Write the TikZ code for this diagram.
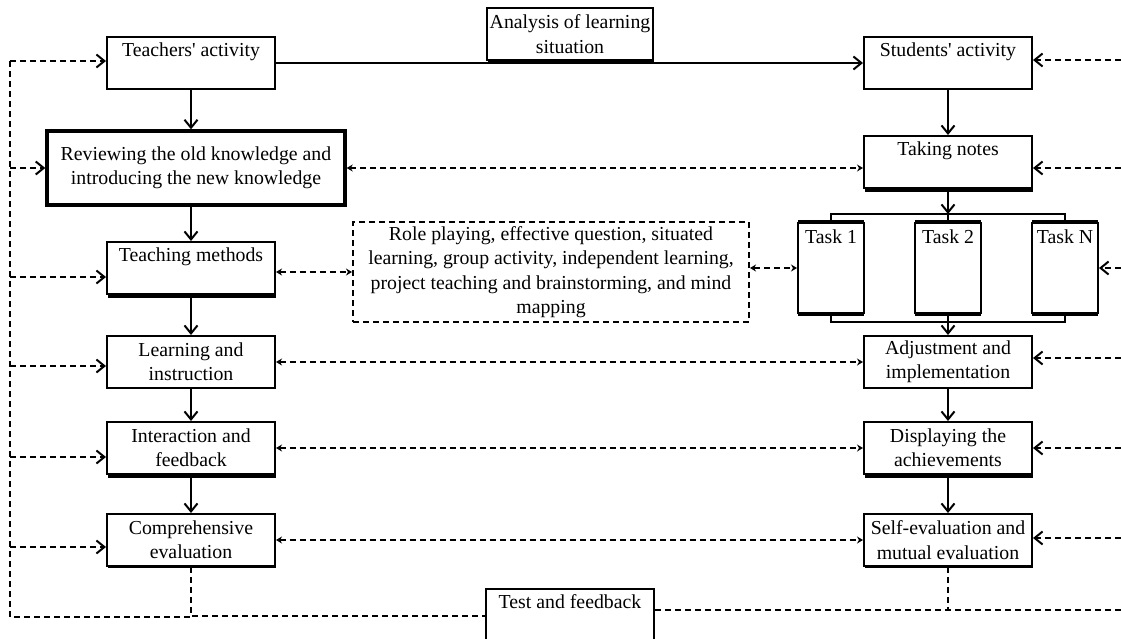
\documentclass[tikz,border=0pt]{standalone}
\usepackage{fontspec}
\setmainfont{Liberation Serif}
\usepackage{tikz}
\usetikzlibrary{arrows.meta,positioning,calc,shadows}
\tikzset{
  >={Straight Barb[length=8pt,width=13pt]},
  every picture/.append style={line width=2pt},
  every node/.append style={font=\fontsize{19.8}{24.4}\selectfont},
}
\tikzset{
  box/.style={draw, fill=white, align=center, inner xsep=3pt, inner ysep=3pt, minimum width=168pt, minimum height=52pt},
  topbox/.style={box, text height=16pt, text depth=30pt},
  arrow/.style={->},
  dline/.style={dash pattern=on 6pt off 4pt},
  darrow/.style={->, dline},
  biarrow/.style={{Stealth[length=6pt,width=7pt]}-{Stealth[length=6pt,width=7pt]}, dline},
  shade/.style={drop shadow={shadow xshift=1pt, shadow yshift=-3.5pt, opacity=1, fill=black}},
  thinshade/.style={drop shadow={shadow xshift=1pt, shadow yshift=-1.5pt, opacity=1, fill=black}}
}

\begin{document}
\begin{tikzpicture}[
  x=1pt, y=-1pt,
  taskbox/.style={box, minimum width=66pt, minimum height=90pt, inner xsep=1pt, text height=17pt, text depth=67pt,
    general shadow={fill=black, shadow yshift=3pt},
    general shadow={fill=black, shadow yshift=-3pt}},
  bar/.style={line width=2.8pt}
]
\useasboundingbox (0,0) rectangle (1121,638);
\clip (0,0) rectangle (1121,638);

% teachers' side
\node[topbox] (teacher) at (191,63) {Teachers\textquotesingle{} activity};
\node[box, minimum width=298pt, minimum height=74pt, line width=3.4pt,
  drop shadow={shadow xshift=1.5pt, shadow yshift=-1pt, opacity=1, fill=black}] (review) at (196,168)
  {Reviewing the old knowledge and\\introducing the new knowledge};
\node[topbox, shade] (methods) at (191,268) {Teaching methods};
\node[box] (learn) at (191,362) {Learning and\\instruction};
\node[box, shade] (interact) at (191,448) {Interaction and\\feedback};
\node[box, thinshade] (comprehensive) at (191,540) {Comprehensive\\evaluation};

% students' side
\node[topbox] (student) at (948,63) {Students\textquotesingle{} activity};
\node[topbox, shade] (notes) at (948,162) {Taking notes};
\node[taskbox] (task1) at (831,268) {Task 1};
\node[taskbox] (task2) at (948,268) {Task 2};
\node[taskbox] (taskN) at (1065,268) {Task N};
\node[box] (adjust) at (948,362) {Adjustment and\\implementation};
\node[box, shade] (display) at (948,448) {Displaying the\\achievements};
\node[box, thinshade] (selfeval) at (948,540) {Self-evaluation and\\mutual evaluation};

% middle
\node[box, minimum width=166pt, thinshade] (analysis) at (570,34) {Analysis of learning\\situation};
\node[box, dline, line width=2pt, minimum width=396pt, minimum height=100pt] (roles) at (551,272)
  {Role playing, effective question, situated\\learning, group activity, independent learning,\\project teaching and brainstorming, and mind\\mapping};
\node[topbox, minimum height=54pt, text depth=32pt] (test) at (570,616) {Test and feedback};

\coordinate (tb) at (948,214);
\coordinate (bb) at (948,322);
\coordinate (L1) at (10,61);   \coordinate (R1) at (1121,60);
\coordinate (L2) at (10,168);  \coordinate (R2) at (1121,168);
\coordinate (L3) at (10,277);  \coordinate (R3) at (1121,268);
\coordinate (L4) at (10,366);  \coordinate (R4) at (1121,358);
\coordinate (L5) at (10,457);  \coordinate (R5) at (1121,448);
\coordinate (L6) at (10,547);  \coordinate (R6) at (1121,538);
\coordinate (L7) at (10,617);  \coordinate (R7) at (1121,610);

\draw[arrow] (teacher) -- (student);
\draw[arrow] (teacher.south) -- (teacher.south |- review.north);
\draw[arrow] (review.south -| methods.north) -- (methods.north);
\draw[arrow] (methods) -- (learn);
\draw[arrow] (learn) -- (interact);
\draw[arrow] (interact) -- (comprehensive);

\draw[arrow] (student) -- (notes);
\draw[arrow] (notes.south) -- (tb);
\draw (tb) -- (task2.north);
\draw[bar] (task1.north) -- (task1.north |- tb) -- (taskN.north |- tb) -- (taskN.north);
\draw[bar] (task1.south) -- (task1.south |- bb) -- (taskN.south |- bb) -- (taskN.south);
\draw[arrow] (task2.south) -- (adjust.north);
\draw[arrow] (adjust) -- (display);
\draw[arrow] (display) -- (selfeval);

\draw[biarrow] (review.east) -- (review.east -| notes.west);
\draw[biarrow] (roles.west -| methods.east) -- (roles.west);
\draw[biarrow] (task1.west -| roles.east) -- (task1.west);
\draw[biarrow] (learn) -- (adjust);
\draw[biarrow] (interact) -- (display);
\draw[biarrow] (comprehensive) -- (selfeval);

% feedback loops
\foreach \c/\n in {L1/teacher, L2/review, L3/methods, L4/learn, L5/interact, L6/comprehensive}
  \draw[darrow] (\c) -- (\c -| \n.west);
\foreach \c/\n in {R1/student, R2/notes, R3/taskN, R4/adjust, R5/display, R6/selfeval}
  \draw[darrow] (\c) -- (\c -| \n.east);
\draw[dline] (L1) -- (L7) -- (L7 -| comprehensive.south);
\draw[dline] (comprehensive.south) |- (test.west);
\draw[dline] (test.east |- R7) -- (R7);
\draw[dline] (selfeval.south) -- (selfeval.south |- R7);
\end{tikzpicture}
\end{document}
